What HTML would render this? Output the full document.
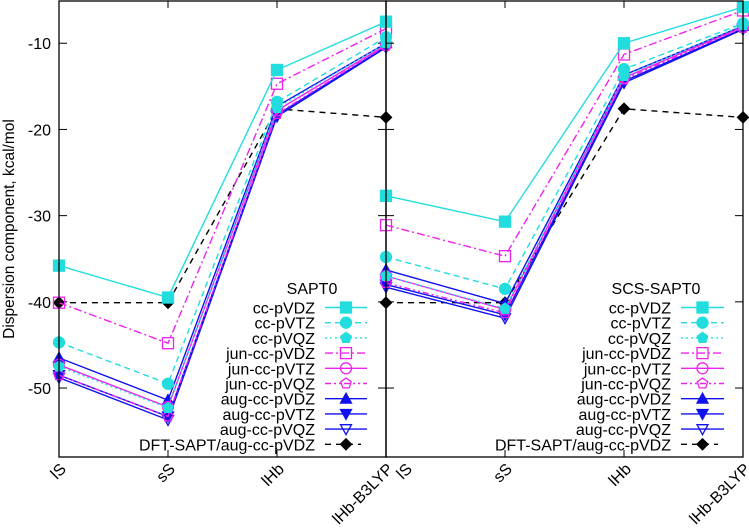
<!DOCTYPE html>
<html><head><meta charset="utf-8">
<style>
html,body{margin:0;padding:0;background:#fff;}
svg{display:block;font-family:"Liberation Sans",sans-serif;}
</style></head>
<body>
<svg id="chart" width="749" height="529" viewBox="0 0 749 529"></svg>
<script>
const categories = ["lS","sS","lHb","lHb-B3LYP"];
const seriesNames = ["cc-pVDZ","cc-pVTZ","cc-pVQZ","jun-cc-pVDZ","jun-cc-pVTZ","jun-cc-pVQZ","aug-cc-pVDZ","aug-cc-pVTZ","aug-cc-pVQZ","DFT-SAPT/aug-cc-pVDZ"];
const yTicks = [-10,-20,-30,-40,-50];
const panelTitles = ["SAPT0","SCS-SAPT0"];
const sapt0 = [
 [-35.8,-39.5,-13.1,-7.5],
 [-44.7,-49.5,-16.8,-9.3],
 [-47.5,-52.3,-17.5,-10.0],
 [-40.1,-44.8,-14.7,-8.3],
 [-47.3,-52.2,-17.8,-10.2],
 [-48.5,-53.3,-18.2,-10.3],
 [-46.5,-51.4,-17.3,-10.0],
 [-48.5,-53.3,-18.3,-10.4],
 [-48.8,-53.7,-18.5,-10.5],
 [-40.1,-40.1,-17.6,-18.6]
];
const scsSapt0 = [
 [-27.7,-30.7,-10.0,-5.8],
 [-34.8,-38.5,-13.0,-7.7],
 [-37.0,-40.8,-13.8,-7.9],
 [-31.1,-34.7,-11.3,-6.2],
 [-37.0,-40.9,-14.0,-8.1],
 [-37.8,-41.3,-14.2,-8.2],
 [-36.3,-40.2,-13.7,-8.0],
 [-38.0,-41.5,-14.4,-8.3],
 [-38.3,-41.9,-14.6,-8.4],
 [-40.1,-40.1,-17.6,-18.6]
];
const CY="#22dddd", MG="#ee22ee", BL="#1111ee";
const styles = [
 {c:CY,d:"",m:"sqf"},{c:CY,d:"6,4",m:"cirf"},{c:CY,d:"2,3",m:"pentf"},
 {c:MG,d:"8,3,2,3",m:"sqo"},{c:MG,d:"",m:"ciro"},{c:MG,d:"6,3,2,3,2,3",m:"pento"},
 {c:BL,d:"",m:"trif"},{c:BL,d:"",m:"tridf"},{c:BL,d:"",m:"trido"},
 {c:"#000",d:"6,5",m:"diaf"}
];
const NS="http://www.w3.org/2000/svg";
const svg=document.getElementById('chart');
function el(t,a,p){const e=document.createElementNS(NS,t);for(const k in a)e.setAttribute(k,a[k]);(p||svg).appendChild(e);return e;}
const yTop=1, yBot=457, vTop=-5.1, vBot=-58;
function yS(v){return yTop+(v-vTop)/(vBot-vTop)*(yBot-yTop);}
const panels=[{x0:59,x1:386,data:sapt0,lab0:0,leg:{tx:315,lx0:325,lx1:367,title:312}},{x0:386,x1:743,data:scsSapt0,lab0:19,leg:{tx:671,lx0:681,lx1:724,title:656}}];
function xS(p,i){return p.x0+i*(p.x1-p.x0)/(categories.length-1);}
function marker(g,m,x,y,c){
 const s=5.5;let e;
 const fill=m.endsWith('f')?c:'none';
 if(m.startsWith('sq'))e=el('rect',{x:x-s,y:y-s,width:2*s,height:2*s,fill:fill,stroke:c,'stroke-width':1.3},g);
 else if(m.startsWith('cir'))e=el('circle',{cx:x,cy:y,r:s,fill:fill,stroke:c,'stroke-width':1.3},g);
 else if(m.startsWith('pent')){let pts=[];for(let k=0;k<5;k++){const a=-Math.PI/2+k*2*Math.PI/5;pts.push((x+s*Math.cos(a)).toFixed(1)+','+(y+s*Math.sin(a)).toFixed(1));}e=el('polygon',{points:pts.join(' '),fill:fill,stroke:c,'stroke-width':1.3},g);}
 else if(m.startsWith('trid'))e=el('polygon',{points:`${x-s},${y-s*0.8} ${x+s},${y-s*0.8} ${x},${y+s}`,fill:fill,stroke:c,'stroke-width':1.3},g);
 else if(m.startsWith('tri'))e=el('polygon',{points:`${x-s},${y+s*0.8} ${x+s},${y+s*0.8} ${x},${y-s}`,fill:fill,stroke:c,'stroke-width':1.3},g);
 else e=el('polygon',{points:`${x},${y-s} ${x+s},${y} ${x},${y+s} ${x-s},${y}`,fill:fill,stroke:c,'stroke-width':1.3},g);
 
 
}
const yt=el('text',{x:0,y:0,'font-size':15.5,'text-anchor':'middle',transform:'translate(14,229) rotate(-90)'});
yt.textContent='Dispersion component, kcal/mol';


yTicks.forEach(v=>{const t=el('text',{x:51,y:yS(v)+6,'font-size':16,'text-anchor':'end'});t.textContent=v;
 
 });
panels.forEach((p,pi)=>{
 const g=el('g',{});
 
 
 yTicks.forEach(v=>{const y=yS(v);
  el('line',{x1:p.x0,x2:p.x0+8,y1:y,y2:y,stroke:'#000','stroke-width':1},g);
  el('line',{x1:p.x1,x2:p.x1-8,y1:y,y2:y,stroke:'#000','stroke-width':1},g);});
 categories.forEach((c,i)=>{const x=xS(p,i);
  el('line',{x1:x,x2:x,y1:yTop,y2:yTop+7,stroke:'#000'},g);
  el('line',{x1:x,x2:x,y1:yBot,y2:yBot-7,stroke:'#000'},g);
  const off=i==0?p.lab0:0;
  const t=el('text',{x:0,y:0,'font-size':16,'text-anchor':'end',transform:`translate(${x+8+off},${yBot+13}) rotate(-45)`},g);
  t.textContent=c;
  
  
 });
 for(let s=p.data.length-1;s>=0;s--){
  const st=styles[s];
  const sg=el('g',{},g);
  
  
  const pts=p.data[s].map((v,i)=>xS(p,i).toFixed(1)+','+yS(v).toFixed(1)).join(' ');
  el('polyline',{points:pts,fill:'none',stroke:st.c,'stroke-width':1.4,'stroke-dasharray':st.d},sg);
  p.data[s].forEach((v,i)=>marker(sg,st.m,xS(p,i),yS(v),st.c));
 }
 const lg=el('g',{},g);
 
 
 const tt=el('text',{x:p.leg.title,y:294,'font-size':16,'text-anchor':'middle'},lg);
 tt.textContent=panelTitles[pi];
 
 
 seriesNames.forEach((n,s)=>{const y=307.5+s*15.2;const st=styles[s];
  const eg=el('g',{},lg);
  
  
  const t=el('text',{x:p.leg.tx,y:y+6,'font-size':16,'text-anchor':'end'},eg);t.textContent=n;
  el('line',{x1:p.leg.lx0,x2:s==9?p.leg.lx1-6:p.leg.lx1,y1:y,y2:y,stroke:st.c,'stroke-width':1.4,'stroke-dasharray':st.d},eg);
  marker(eg,st.m,(p.leg.lx0+p.leg.lx1)/2,y,st.c);
 });
 el('rect',{x:p.x0,y:yTop,width:p.x1-p.x0,height:yBot-yTop,fill:'none',stroke:'#000','stroke-width':1.3},g);
});
</script>
</body></html>
